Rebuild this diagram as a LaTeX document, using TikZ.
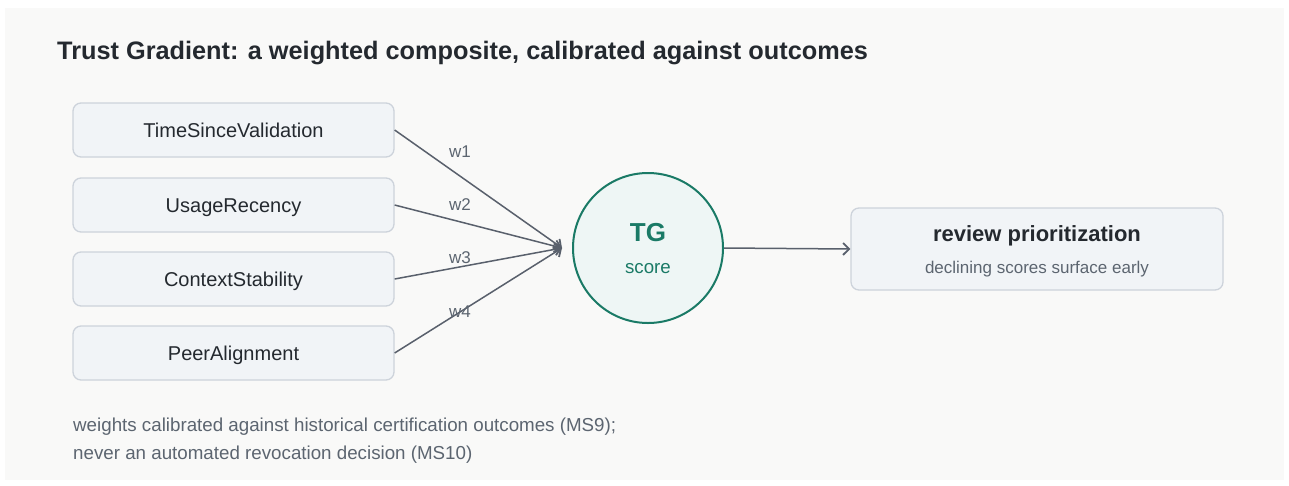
\documentclass[tikz,border=0pt]{standalone}
\usepackage{fontspec}
\setmainfont{Liberation Sans}
\usetikzlibrary{arrows.meta,positioning,calc}
\definecolor{panelbg}{HTML}{F9F9F8}
\definecolor{boxfill}{HTML}{F1F4F7}
\definecolor{boxline}{HTML}{CDD3DB}
\definecolor{darktext}{HTML}{24292F}
\definecolor{graytext}{HTML}{5C6570}
\definecolor{arrowcol}{HTML}{59606C}
\definecolor{tggreen}{HTML}{1A7A66}
\definecolor{tgfill}{HTML}{EEF6F5}
\tikzset{
  inbox/.style={draw=boxline, fill=boxfill, line width=1.3pt, rounded corners=8pt,
    minimum width=321pt, minimum height=54pt, inner sep=0pt, text=darktext,
    text height=14.3pt, text depth=0pt,
    font=\fontsize{20}{24}\selectfont},
  outbox/.style={draw=boxline, fill=boxfill, line width=1.3pt, rounded corners=8pt,
    minimum width=372pt, minimum height=82pt, inner sep=0pt},
  tgcircle/.style={circle, draw=tggreen, fill=tgfill, line width=2pt,
    minimum size=150pt, inner sep=0pt},
  conn/.style={draw=arrowcol, line width=1.5pt,
    -{Straight Barb[length=6pt,width=12pt,line width=1.8pt]}},
  wlabel/.style={text=graytext, font=\fontsize{17}{20}\selectfont, inner sep=0pt},
  basetext/.style={anchor=base, inner sep=0pt}
}
\begin{document}
\begin{tikzpicture}[x=1pt,y=-1pt]
\useasboundingbox (0,0) rectangle (1289,485);
\fill[white] (0,0) rectangle (1289,485);
\fill[panelbg] (5,8) rectangle (1284,480);

\node[anchor=base west, inner sep=0pt, text=darktext, font=\bfseries\fontsize{25.3}{30}\selectfont] (title) at (57,59) {Trust Gradient: a weighted composite, calibrated against outcomes};

\node[inbox] (b1) at (233.5,130) {TimeSinceValidation};
\node[inbox] (b2) at (233.5,205) {UsageRecency};
\node[inbox] (b3) at (233.5,279) {ContextStability};
\node[inbox] (b4) at (233.5,353) {PeerAlignment};

\node[tgcircle] (tg) at (648,248) {};
\node[basetext, text=tggreen, font=\bfseries\fontsize{26}{30}\selectfont] (tgt) at (648,241.7) {TG};
\node[basetext, text=tggreen, font=\fontsize{18.7}{22}\selectfont] (tgs) at (648,273.3) {score};

\coordinate (tgin) at ($(tg.west)+(-10,0)$);

\draw[conn] (b1.east) -- (tgin) node[wlabel, pos=0.39, yshift=24pt] {w1};
\draw[conn] (b2.east) -- (tgin) node[wlabel, pos=0.39, yshift=17pt] {w2};
\draw[conn] (b3.east) -- (tgin) node[wlabel, pos=0.39, yshift=9pt] {w3};
\draw[conn] (b4.east) -- (tgin) node[wlabel, pos=0.39, yshift=0pt] {w4};

\node[outbox] (rp) at (1037,249) {};
\node[basetext, text=darktext, font=\bfseries\fontsize{22}{26}\selectfont] (rpt) at (1037,241.7) {review prioritization};
\node[basetext, text=graytext, font=\fontsize{17}{20}\selectfont] (rps) at (1037,273.3) {declining scores surface early};

\draw[conn] (tg.east) -- (rp.west);

\node[anchor=west, text=graytext, font=\fontsize{18.75}{28}\selectfont, align=left, inner sep=0pt] (note) at (73,441) {weights calibrated against historical certification outcomes (MS9);\\never an automated revocation decision (MS10)};
\end{tikzpicture}
\end{document}
